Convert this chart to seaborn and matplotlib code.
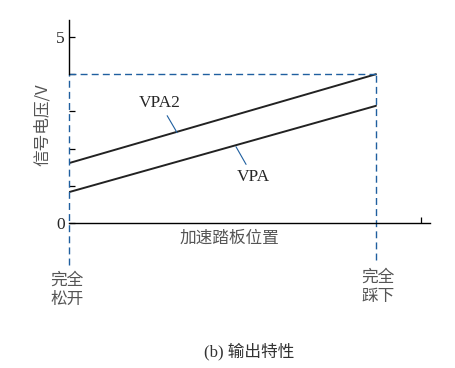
import matplotlib
matplotlib.use("Agg")
import matplotlib.pyplot as plt
import numpy as np
import pandas as pd
import seaborn as sns

sns.set_theme(style="white")
plt.rcParams["font.family"] = ["Noto Sans CJK SC", "DejaVu Sans"]

# pedal position (0 = fully released, 1 = fully pressed) and signal voltage
pedal = [0.0, 1.0]
vpa = [0.83, 3.15]
vpa2 = [1.61, 4.0]
full_voltage = 4.0
y_ticks = [0, 1, 2, 3, 4, 5]
y_tick_labels = ["0", "", "", "", "", "5"]

BLUE = "#1f5f9f"
GREY = "#555555"

df = pd.DataFrame({
    "pedal": pedal * 2,
    "voltage": vpa + vpa2,
    "signal": ["VPA"] * 2 + ["VPA2"] * 2,
})

fig = plt.figure(figsize=(4.56, 3.68), dpi=100)
ax = fig.add_axes([69 / 456, 145 / 368, 361 / 456, 203 / 368])

sns.lineplot(data=df, x="pedal", y="voltage", hue="signal",
             palette={"VPA": "#222222", "VPA2": "#222222"},
             linewidth=1.4, legend=False, ax=ax)

ax.set_xlim(0, 1.176)
ax.set_ylim(0, 5.457)
ax.set_xlabel("")
ax.set_ylabel("")

for s in ["top", "right"]:
    ax.spines[s].set_visible(False)
ax.spines["left"].set_bounds(full_voltage, 5.457)
for s in ["left", "bottom"]:
    ax.spines[s].set_color("black")
    ax.spines[s].set_linewidth(1.0)

ax.set_yticks(y_ticks)
ax.set_yticklabels(y_tick_labels, family="Liberation Serif", fontsize=12.5)
ax.set_xticks([1.147])
ax.set_xticklabels([""])
ax.tick_params(axis="both", direction="in", length=4, width=0.9,
               color="black", left=True, bottom=True, pad=3)

# dashed guide lines
ax.plot([0, 1.0], [full_voltage, full_voltage], ls=(0, (5, 3)),
        color=BLUE, lw=1.0, clip_on=False)
ax.plot([0, 0], [-1.13, full_voltage], ls=(0, (5, 3)),
        color=BLUE, lw=1.0, clip_on=False)
ax.plot([1.0, 1.0], [-0.99, full_voltage], ls=(0, (5, 3)),
        color=BLUE, lw=1.0, clip_on=False)

# labels with leader lines
ax.annotate("VPA2", xy=(0.352, 2.43), xytext=(0.296, 3.22),
            fontsize=12.5, family="Liberation Serif", ha="center", va="center",
            arrowprops=dict(arrowstyle="-", color=BLUE, lw=0.8,
                            shrinkA=1, shrinkB=0))
ax.annotate("VPA", xy=(0.544, 2.05), xytext=(0.6, 1.24),
            fontsize=12.5, family="Liberation Serif", ha="center", va="center",
            arrowprops=dict(arrowstyle="-", color=BLUE, lw=0.8,
                            shrinkA=1, shrinkB=0))

ax.text(-0.085, 2.63, "信号电压/V", rotation=90, ha="center", va="center",
        fontsize=12, color=GREY, transform=ax.transData, clip_on=False)
ax.text(0.521, -0.4, "加速踏板位置", ha="center", va="center",
        fontsize=12, color=GREY, clip_on=False)
ax.text(-0.007, -1.8, "完全\n松开", ha="center", va="center",
        fontsize=12, color=GREY, linespacing=1.2, clip_on=False)
ax.text(1.007, -1.72, "完全\n踩下", ha="center", va="center",
        fontsize=12, color=GREY, linespacing=1.2, clip_on=False)

fig.text(249 / 456, 1 - 352 / 368, "(b) 输出特性", ha="center", va="center",
         fontsize=12, color="#333333",
         family=["Liberation Serif", "Noto Sans CJK SC"])

fig.savefig("out.png", dpi=100, facecolor="white")
